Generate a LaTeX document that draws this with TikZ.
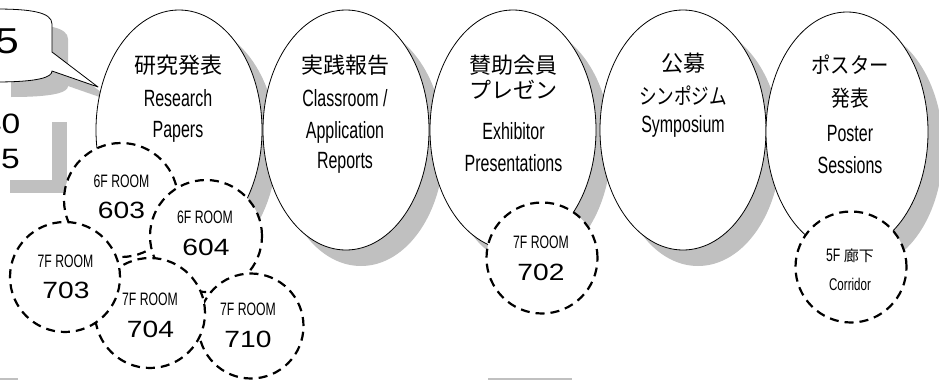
\documentclass[tikz,border=0pt]{standalone}
\usepackage{fontspec}
\usepackage{graphicx}
\usetikzlibrary{shapes.geometric}
\newfontfamily\cjkf{Noto Sans CJK JP}
\newfontfamily\narrowf[FakeStretch=0.68]{Liberation Sans}
\newfontfamily\widef[FakeStretch=1.2]{Liberation Sans}
\definecolor{shadowc}{RGB}{192,192,192}
\tikzset{
 bigell/.style={ellipse, draw=black, line width=0.8pt, fill=white, minimum width=166pt, minimum height=240pt, inner sep=0pt},
 ellshadow/.style={ellipse, fill=shadowc, minimum width=166pt, minimum height=240pt, inner sep=0pt},
 room/.style={circle, draw=black, line width=2.2pt, dash pattern=on 9pt off 6pt, fill=white, inner sep=0pt},
 jp/.style={inner sep=0pt, font=\cjkf\fontsize{22}{26}\selectfont},
 en/.style={inner sep=0pt, anchor=base, font=\narrowf\fontsize{23.5}{27}\selectfont},
 rlab/.style={inner sep=0pt, anchor=base, font=\narrowf\fontsize{18}{20}\selectfont},
 rnum/.style={inner sep=0pt, anchor=base, font=\widef\fontsize{23.5}{26}\selectfont},
 bignum/.style={inner sep=0pt, anchor=base east, font=\widef\fontsize{36}{40}\selectfont},
 midnum/.style={inner sep=0pt, anchor=base east, font=\widef\fontsize{28}{32}\selectfont},
}
\begin{document}
\begin{tikzpicture}[x=1pt,y=-1pt]
\useasboundingbox (0,0) rectangle (939,380);
\clip (0,0) rectangle (939,380);
\fill[white] (0,0) rectangle (939,380);

% shadows of callout and box
\fill[shadowc, shift={(16,15)}] (-5,9) .. controls (30,9) and (52,12) .. (52,24) -- (52,52) -- (98,87) -- (52,71) .. controls (52,77) and (40,82) .. (-5,82) -- cycle;
\fill[shadowc] (10,122) rectangle (67,193);
\fill[white] (-5,108) rectangle (52,180);

% ellipse shadows
\node[ellshadow] (s1) at (194,146) {};
\node[ellshadow] (s2) at (361,146) {};
\node[ellshadow] (s3) at (528,146) {};
\node[ellshadow] (s4) at (698,146) {};
\node[ellshadow, minimum width=162pt] (s5) at (862,148) {};

% ellipses
\node[bigell] (e1) at (179,130) {};
\node[bigell] (e2) at (346,130) {};
\node[bigell] (e3) at (513,130) {};
\node[bigell] (e4) at (683,130) {};
\node[bigell, minimum width=162pt] (e5) at (847,132) {};

% callout
\draw[fill=white, line width=0.8pt, line join=round] (-5,9) .. controls (30,9) and (52,12) .. (52,24) -- (52,52) -- (98,87) -- (52,71) .. controls (52,77) and (40,82) .. (-5,82) -- cycle;
\node[bignum] (n5) at (19,53) {5};
\node[midnum] (n40) at (20.5,133) {40};
\node[midnum] (n5b) at (20,168) {5};

% ellipse texts
\node[jp] (t1a) at (178,65) {研究発表};
\node[en] (t1b) at (178,106) {Research};
\node[en] (t1c) at (178,137) {Papers};

\node[jp] (t2a) at (345,65) {実践報告};
\node[en] (t2b) at (345,106) {Classroom /};
\node[en] (t2c) at (345,138) {Application};
\node[en] (t2d) at (345,168) {Reports};

\node[jp] (t3a) at (513.5,65) {賛助会員};
\node[jp] (t3b) at (513.5,90) {プレゼン};
\node[en] (t3c) at (513.5,139) {Exhibitor};
\node[en] (t3d) at (513.5,171) {Presentations};

\node[jp] (t4a) at (683,63) {公募};
\node[jp] (t4b) at (683,96) {\scalebox{0.8}[1]{シンポジム}};
\node[en] (t4c) at (683,132) {Symposium};

\node[jp] (t5a) at (850,65) {\scalebox{0.88}[1]{ポスター}};
\node[jp] (t5b) at (850,98) {\scalebox{0.85}[1]{発表}};
\node[en] (t5c) at (850,141) {Poster};
\node[en] (t5d) at (850,173) {Sessions};

% room circles
\node[room, minimum size=114pt] (c603) at (121,200) {};
\node[rlab] (l603) at (121.5,187) {6F ROOM};
\node[rnum] (r603) at (121.5,218) {603};

\node[room, minimum size=112pt] (c604) at (206,236) {};
\node[rlab] (l604) at (205,223) {6F ROOM};
\node[rnum] (r604) at (206,255) {604};

\node[room, minimum size=105pt] (c710) at (251,326) {};
\node[rlab] (l710) at (248,315) {7F ROOM};
\node[rnum] (r710) at (248,347) {710};

\node[room, minimum size=110pt] (c704) at (150,313) {};
\node[rlab] (l704) at (150,305) {7F ROOM};
\node[rnum] (r704) at (150.5,337) {704};

\node[room, minimum size=110pt] (c703) at (65,277) {};
\node[rlab] (l703) at (65.5,267) {7F ROOM};
\node[rnum] (r703) at (66,298) {703};

\node[room, minimum size=111pt] (c702) at (542,258) {};
\node[rlab] (l702) at (541,248) {7F ROOM};
\node[rnum] (r702) at (541,280) {702};

\node[room, minimum size=111pt] (c5f) at (851,267) {};
\node[rlab] (l5f) at (850,261) {5F {\cjkf\fontsize{15}{18}\selectfont 廊下}};
\node[rlab, font=\narrowf\fontsize{17}{20}\selectfont] (r5f) at (850,290) {Corridor};

% bottom shadow edges
\fill[shadowc] (0,377.5) rectangle (18,380);
\fill[shadowc] (488,377.5) rectangle (572,380);
\end{tikzpicture}
\end{document}
